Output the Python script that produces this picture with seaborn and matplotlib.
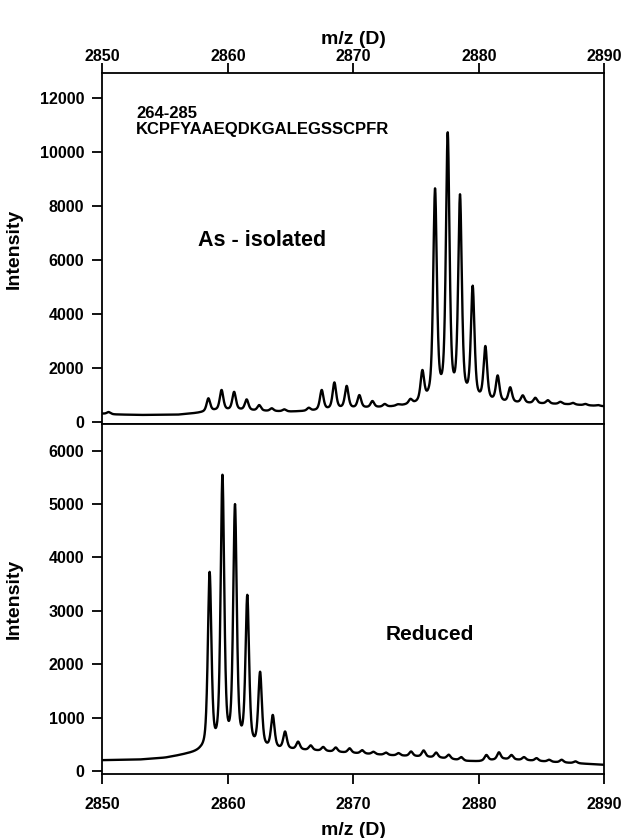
import numpy as np
import pandas as pd
import matplotlib
matplotlib.use("Agg")
import matplotlib.pyplot as plt
import seaborn as sns

# As-isolated spectrum: peak positions (m/z) and apex intensities
top_centers = [2850.5, 2858.45, 2859.5, 2860.5, 2861.5, 2862.5, 2863.5, 2864.5,
               2866.45, 2867.48, 2868.49, 2869.47, 2870.48, 2871.52, 2872.5, 2873.55,
               2874.55, 2875.5, 2876.51, 2877.52, 2878.5, 2879.51, 2880.52, 2881.5,
               2882.5, 2883.5, 2884.5, 2885.5, 2886.5, 2887.5, 2888.5, 2889.5]
top_heights = [360, 870, 1180, 1110, 830, 620, 500, 460,
               520, 1180, 1460, 1330, 990, 770, 660, 650,
               850, 1920, 8660, 10740, 8440, 5050, 2810, 1720,
               1280, 980, 890, 800, 740, 700, 660, 620]
# baseline under the as-isolated peaks
top_base_mz = [2850, 2851, 2853, 2856, 2857.5, 2859, 2861, 2863, 2865, 2867, 2869,
               2871, 2873, 2875, 2876.5, 2878.5, 2881, 2884, 2887, 2890]
top_base_int = [300, 270, 250, 260, 320, 400, 420, 390, 370, 400, 460,
                500, 540, 620, 700, 700, 690, 670, 640, 570]

# Reduced spectrum
bot_centers = [2858.55, 2859.57, 2860.57, 2861.55, 2862.57, 2863.58, 2864.56, 2865.6,
               2866.6, 2867.6, 2868.6, 2869.7, 2870.7, 2871.6, 2872.6, 2873.6,
               2874.6, 2875.6, 2876.6, 2877.6, 2878.6, 2880.6, 2881.6, 2882.6,
               2883.6, 2884.6, 2885.6, 2886.6, 2887.7]
bot_heights = [3730, 5550, 5000, 3300, 1860, 1050, 740, 550,
               480, 450, 440, 425, 390, 360, 345, 335,
               365, 385, 345, 305, 260, 300, 350, 300,
               260, 240, 210, 210, 180]
bot_base_mz = [2850, 2853, 2855, 2856.7, 2857.8, 2859, 2861, 2863, 2865, 2867, 2870,
               2873, 2875, 2877, 2879, 2880, 2882, 2884, 2886, 2888, 2890]
bot_base_int = [200, 210, 240, 300, 330, 300, 360, 380, 390, 375, 330,
                290, 270, 240, 185, 180, 220, 195, 165, 140, 115]

mz = np.linspace(2850, 2890, 4001)
FWHM = 0.34
ETA = 0.55  # lorentzian share of the peak shape


def peak_shape(x, c):
    d = x - c
    lor = 1.0 / (1.0 + (2 * d / FWHM) ** 2)
    gau = np.exp(-4 * np.log(2) * (d / FWHM) ** 2)
    return ETA * lor + (1 - ETA) * gau


def build_trace(centers, heights, base_mz, base_int):
    centers = np.asarray(centers, dtype=float)
    heights = np.asarray(heights, dtype=float)
    base = np.interp(mz, base_mz, base_int)
    # pick amplitudes so each apex lands on the height
    A = peak_shape(centers[:, None], centers[None, :])
    target = heights - np.interp(centers, base_mz, base_int)
    amps = np.clip(np.linalg.solve(A, target), 0, None)
    return base + (amps[None, :] * peak_shape(mz[:, None], centers[None, :])).sum(axis=1)


top_df = pd.DataFrame({"mz": mz, "intensity": build_trace(top_centers, top_heights, top_base_mz, top_base_int)})
bot_df = pd.DataFrame({"mz": mz, "intensity": build_trace(bot_centers, bot_heights, bot_base_mz, bot_base_int)})

sns.set_style("ticks")
plt.rcParams["font.family"] = ["Liberation Sans", "DejaVu Sans"]
plt.rcParams["font.weight"] = "bold"
plt.rcParams["axes.labelweight"] = "bold"
for key in ["text.color", "axes.labelcolor", "xtick.color", "ytick.color", "axes.edgecolor"]:
    plt.rcParams[key] = "black"

fig = plt.figure(figsize=(6.24, 8.38), dpi=100)
ax1 = fig.add_axes([0.164, 0.494, 0.8045, 0.4192])
ax2 = fig.add_axes([0.164, 0.0758, 0.8045, 0.4182])

for ax, df in [(ax1, top_df), (ax2, bot_df)]:
    sns.lineplot(data=df, x="mz", y="intensity", ax=ax, color="black", linewidth=1.7,
                 estimator=None, sort=False)
    ax.set_xlim(2850, 2890)
    ax.set_xticks([2850, 2860, 2870, 2880, 2890])
    for s in ax.spines.values():
        s.set_visible(True)
        s.set_linewidth(1.3)
        s.set_color("black")
    ax.tick_params(direction="out", length=7, width=1.3, color="black", labelsize=11.5)
    ax.tick_params(axis="y", pad=6)
    ax.set_ylabel("Intensity", fontsize=14, fontweight="bold")
    ax.yaxis.set_label_coords(-0.158, 0.5)

# top panel: x axis on top
ax1.set_ylim(-85, 12950)
ax1.set_yticks(np.arange(0, 12001, 2000))
ax1.tick_params(axis="x", bottom=False, labelbottom=False, top=True, labeltop=True, pad=-0.5)
ax1.xaxis.set_label_position("top")
ax1.set_xlabel("m/z (D)", fontsize=14, fontweight="bold")
ax1.xaxis.set_label_coords(0.5, 1.082)

ax1.text(2852.7, 11450, "264-285", fontsize=12, fontweight="bold", va="center")
ax1.text(2852.7, 10830, "KCPFYAAEQDKGALEGSSCPFR", fontsize=12, fontweight="bold", va="center")
ax1.text(2857.6, 6740, "As - isolated", fontsize=15.5, fontweight="bold", va="center")

# bottom panel
ax2.set_ylim(-66, 6500)
ax2.set_yticks(np.arange(0, 6001, 1000))
ax2.tick_params(axis="x", top=False, pad=9)
ax2.set_xlabel("m/z (D)", fontsize=14, fontweight="bold")
ax2.xaxis.set_label_coords(0.5, -0.135)
ax2.text(2872.6, 2550, "Reduced", fontsize=15, fontweight="bold", va="center")

fig.savefig("out.png", dpi=100)
